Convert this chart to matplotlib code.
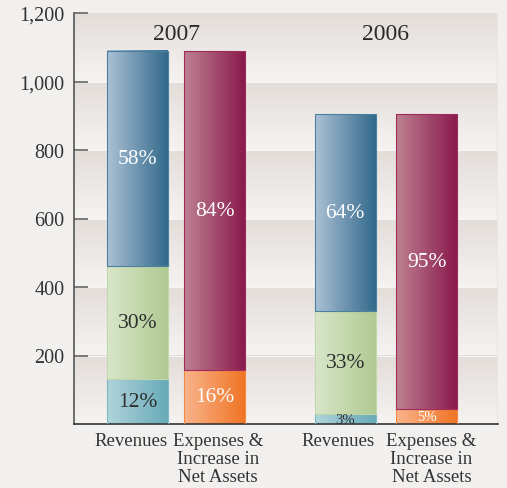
import numpy as np
import matplotlib.pyplot as plt
import matplotlib.transforms as mtransforms
from matplotlib.colors import LinearSegmentedColormap

# data
years = ['2007', '2006']
bar_labels = ['Revenues', 'Expenses &\nIncrease in\nNet Assets']
rev_2007 = [131, 330, 628]        # bottom, middle, top segment
rev_2006 = [29, 301, 575]
exp_2007 = [158, 931]
exp_2006 = [44, 861]
rev_pct_2007 = ['12%', '30%', '58%']
rev_pct_2006 = ['3%', '33%', '64%']
exp_pct_2007 = ['16%', '84%']
exp_pct_2006 = ['5%', '95%']
yticks = [200, 400, 600, 800, 1000, 1200]

plt.rcParams['font.family'] = ['Liberation Serif', 'DejaVu Serif']

fig = plt.figure(figsize=(5.07, 4.89), dpi=100)
fig.patch.set_facecolor('#f1f0ee')
ax = fig.add_axes([74/507, 1-425/489, 424/507, 411/489])

xpos = [0, 1, 2.68, 3.73]
w = 0.787
ax.set_xlim(-0.819, 4.652)
ax.set_ylim(0, 1200)

# banded background
bg = LinearSegmentedColormap.from_list('bg', ['#f5f3f1', '#e3ddd9'])
grad = np.linspace(0, 1, 64).reshape(-1, 1)
for y0 in range(0, 1200, 200):
    ax.imshow(grad, cmap=bg, extent=[-0.819, 4.652, y0, y0 + 200],
              aspect='auto', origin='lower', zorder=0)
    ax.axhline(y0, color='#f7f6f4', lw=0.8, zorder=0.5)

# segment colours: (left light, right dark, edge, text colour)
blue = ('#aac0d5', '#336a8b', '#4a7fa0', 'white')
green = ('#d8e6c8', '#b0ca92', '#c2d8a8', '#2e2e2e')
teal = ('#afd3db', '#68abb9', '#7db8c4', '#2e2e2e')
red = ('#bd8191', '#8a1a4d', '#a02a5c', 'white')
orange = ('#f9b48c', '#f07526', '#f28a45', 'white')

stacks = [
    (xpos[0], rev_2007, rev_pct_2007, [teal, green, blue]),
    (xpos[1], exp_2007, exp_pct_2007, [orange, red]),
    (xpos[2], rev_2006, rev_pct_2006, [teal, green, blue]),
    (xpos[3], exp_2006, exp_pct_2006, [orange, red]),
]

hgrad = np.linspace(0, 1, 64).reshape(1, -1)
for x, vals, pcts, cols in stacks:
    bottom = 0
    for v, p, c in zip(vals, pcts, cols):
        bar = ax.bar(x, v, w, bottom=bottom, facecolor='none',
                     edgecolor=c[2], linewidth=0.8, zorder=3)[0]
        cm = LinearSegmentedColormap.from_list('g', [c[0], c[1]])
        ax.imshow(hgrad, cmap=cm, aspect='auto', zorder=2,
                  extent=[bar.get_x(), bar.get_x() + bar.get_width(),
                          bottom, bottom + v])
        fs = 15.5 if v > 100 else 10.5
        ax.text(x, bottom + v / 2, p, ha='center', va='center',
                color=c[3], fontsize=fs, zorder=4)
        bottom += v

# year titles
ax.text((xpos[0] + xpos[1]) / 2, 1140, years[0], ha='center', va='center',
        fontsize=17, color='#2a2a2a')
ax.text((xpos[2] + xpos[3]) / 2, 1140, years[1], ha='center', va='center',
        fontsize=17, color='#2a2a2a')

ax.set_xticks(xpos)
ax.set_xticklabels(bar_labels * 2, fontsize=13.5, color='#333333',
                   linespacing=1.05, va='top')
ax.tick_params(axis='x', length=0, pad=6)
shifts = [-6, 3, -7, 5]
for lab, dx in zip(ax.get_xticklabels(), shifts):
    lab.set_transform(lab.get_transform() +
                      mtransforms.ScaledTranslation(dx / 100, 0, fig.dpi_scale_trans))
ax.set_yticks(yticks)
ax.set_yticklabels(['{:,}'.format(t) for t in yticks], fontsize=14.5,
                   color='#333333')
ax.tick_params(axis='y', direction='in', length=10, width=1.2,
               color='#666666', pad=7)

for s in ['top', 'right']:
    ax.spines[s].set_visible(False)
ax.spines['left'].set_color('#555555')
ax.spines['left'].set_linewidth(1.2)
ax.spines['bottom'].set_color('#333333')
ax.spines['bottom'].set_linewidth(1.2)
ax.axvline(4.652, color='#e8e6e3', lw=1.5, zorder=1)

fig.savefig('out.png', dpi=100, facecolor=fig.get_facecolor())
